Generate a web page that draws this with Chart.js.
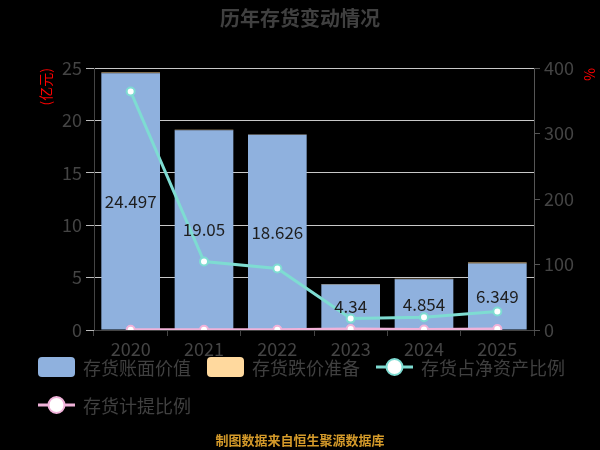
<!DOCTYPE html>
<html>
<head>
<meta charset="utf-8">
<script src="https://cdn.jsdelivr.net/npm/chart.js@4.4.1/dist/chart.umd.min.js"></script>
<style>
  html, body { margin: 0; padding: 0; background: #000; }
  #wrap { width: 600px; height: 450px; }
</style>
</head>
<body>
<div id="wrap"><canvas id="stockChart" width="600" height="450"></canvas></div>
<script>
// 数据
const years = ['2020', '2021', '2022', '2023', '2024', '2025'];
const bookValue = [24.497, 19.05, 18.626, 4.34, 4.854, 6.349];      // 存货账面价值 (亿元)
const provision = [0.08, 0.06, 0.03, 0.06, 0.04, 0.09];             // 存货跌价准备 (亿元)
const netAssetRatio = [364, 104.6, 93.8, 17.4, 19.5, 28.2];          // 存货占净资产比例 (%)
const provisionRatio = [0.3, 0.3, 0.2, 1.4, 0.8, 1.4];              // 存货计提比例 (%)
const leftTicks = [0, 5, 10, 15, 20, 25];
const rightTicks = [0, 100, 200, 300, 400];

const FONT = '"Noto Sans CJK SC", "Noto Sans", sans-serif';
const TEXT_GRAY = '#404040';

const COLOR_BOOK = '#8fb1de';
const COLOR_PROV = '#ffd99e';
const COLOR_NET = '#7edcd2';
const COLOR_PR = '#f0b2d9';

// 背景
const bgPlugin = {
    id: 'bg',
    beforeDraw(chart) {
        const c = chart.ctx;
        c.save();
        c.fillStyle = '#000';
        c.fillRect(0, 0, chart.width, chart.height);
        c.restore();
    }
};

// 柱内数值
const barLabels = {
    id: 'barLabels',
    afterDatasetsDraw(chart) {
        const c = chart.ctx;
        const meta = chart.getDatasetMeta(0);
        c.save();
        c.font = '17px ' + FONT;
        c.fillStyle = '#1e1e1e';
        c.textAlign = 'center';
        c.textBaseline = 'middle';
        meta.data.forEach((bar, i) => {
            c.fillText(String(bookValue[i]), bar.x, (bar.y + bar.base) / 2);
        });
        c.restore();
    }
};

// 标题、图例、来源
const decor = {
    id: 'decor',
    afterDraw(chart) {
        const c = chart.ctx;
        c.save();
        c.textBaseline = 'middle';

        c.font = 'bold 20px ' + FONT;
        c.fillStyle = TEXT_GRAY;
        c.textAlign = 'center';
        c.fillText('历年存货变动情况', 300, 18);

        c.textAlign = 'left';
        c.font = '18px ' + FONT;
        const items = chart.data.datasets.map(ds => ({ label: ds.label, type: ds.type, color: ds.borderColor || ds.backgroundColor }));
        let x = 38, y = 367;
        items.forEach((it, idx) => {
            const tw = c.measureText(it.label).width;
            if (x + 45 + tw > 590) { x = 38; y += 38; }
            if (it.type === 'line') {
                c.strokeStyle = it.color;
                c.lineWidth = 3;
                c.beginPath();
                c.moveTo(x, y); c.lineTo(x + 37, y);
                c.stroke();
                c.beginPath();
                c.arc(x + 18.5, y, 8, 0, Math.PI * 2);
                c.fillStyle = '#fff';
                c.fill();
                c.lineWidth = 2;
                c.stroke();
            } else {
                c.fillStyle = chart.data.datasets[idx].backgroundColor;
                c.beginPath();
                c.roundRect(x, y - 10, 37, 20, 4);
                c.fill();
            }
            c.fillStyle = TEXT_GRAY;
            c.fillText(it.label, x + 45, y + 1);
            x += 45 + tw + 16;
        });

        c.textAlign = 'center';
        c.font = 'bold 13px ' + FONT;
        c.fillStyle = '#d49a2a';
        c.fillText('制图数据来自恒生聚源数据库', 300, 440);
        c.restore();
    }
};

const ctx = document.getElementById('stockChart').getContext('2d');
const stockChart = new Chart(ctx, {
    type: 'bar',
    data: {
        labels: years,
        datasets: [{
            label: '存货账面价值',
            data: bookValue,
            backgroundColor: COLOR_BOOK,
            stack: 's',
            yAxisID: 'y',
            order: 2,
            categoryPercentage: 1,
            barPercentage: 0.8
        }, {
            label: '存货跌价准备',
            data: provision,
            backgroundColor: COLOR_PROV,
            stack: 's',
            yAxisID: 'y',
            order: 2,
            categoryPercentage: 1,
            barPercentage: 0.8
        }, {
            type: 'line',
            label: '存货占净资产比例',
            data: netAssetRatio,
            borderColor: COLOR_NET,
            backgroundColor: '#fff',
            borderWidth: 3,
            pointRadius: 4,
            pointBorderWidth: 2,
            pointBorderColor: COLOR_NET,
            pointBackgroundColor: '#fff',
            tension: 0,
            yAxisID: 'y1',
            order: 1
        }, {
            type: 'line',
            label: '存货计提比例',
            data: provisionRatio,
            borderColor: COLOR_PR,
            backgroundColor: '#fff',
            borderWidth: 3,
            pointRadius: 4,
            pointBorderWidth: 2,
            pointBorderColor: COLOR_PR,
            pointBackgroundColor: '#fff',
            tension: 0,
            yAxisID: 'y1',
            order: 0
        }]
    },
    options: {
        responsive: false,
        animation: false,
        layout: { padding: { top: 68, left: 0, right: 0, bottom: 90 } },
        plugins: {
            legend: { display: false },
            title: { display: false },
            tooltip: { enabled: false }
        },
        scales: {
            x: {
                stacked: true,
                grid: { drawOnChartArea: false, drawTicks: true, tickLength: 6, tickColor: '#444', offset: true },
                border: { color: '#444', width: 1 },
                ticks: { color: '#444', font: { size: 18, family: FONT }, padding: 2 },
                afterFit(scale) { scale.height = 30; }
            },
            y: {
                stacked: true,
                position: 'left',
                min: 0,
                max: 25,
                afterBuildTicks(scale) { scale.ticks = leftTicks.map(v => ({ value: v })); },
                grid: { color: '#c8c8c8', lineWidth: 1, tickLength: 8, tickColor: '#bbb' },
                border: { color: '#444', width: 1 },
                ticks: { color: '#444', font: { size: 18, family: FONT }, padding: 4 },
                title: { display: true, text: '(亿元)', color: '#ff0000', align: 'end', font: { size: 14, family: FONT }, padding: { top: 37, bottom: 0 } },
                afterFit(scale) { scale.width = 94; }
            },
            y1: {
                position: 'right',
                min: 0,
                max: 400,
                afterBuildTicks(scale) { scale.ticks = rightTicks.map(v => ({ value: v })); },
                grid: { drawOnChartArea: false, tickLength: 6, tickColor: '#555' },
                border: { color: '#555', width: 1 },
                ticks: { color: '#444', font: { size: 18, family: FONT }, padding: 4 },
                title: { display: true, text: '%', color: '#ff0000', align: 'end', font: { size: 14, family: FONT }, padding: { top: 2, bottom: 0 } },
                afterFit(scale) { scale.width = 66; }
            }
        }
    },
    plugins: [bgPlugin, barLabels, decor]
});
</script>
</body>
</html>
